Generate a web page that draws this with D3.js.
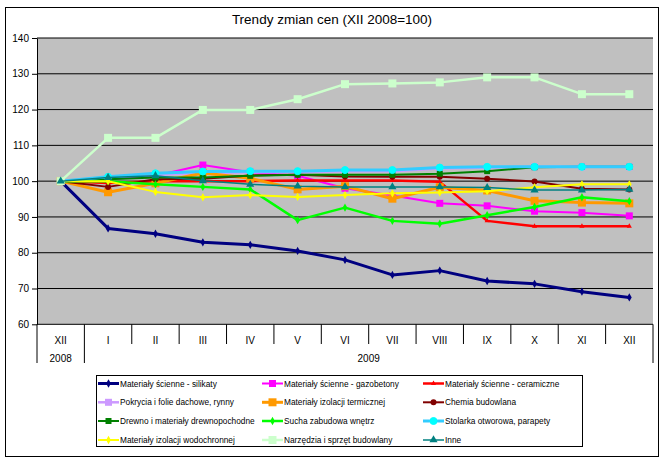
<!DOCTYPE html>
<html><head><meta charset="utf-8">
<script src="https://cdn.jsdelivr.net/npm/d3@7/dist/d3.min.js"></script>
<style>body{margin:0;background:#fff;}svg{display:block;font-family:Arial,"Liberation Sans",sans-serif;}</style>
</head><body>
<script>
const months = ["XII","I","II","III","IV","V","VI","VII","VIII","IX","X","XI","XII"];
const years = [["2008",0,1],["2009",1,13]];
const yTicks = [60,70,80,90,100,110,120,130,140];
const title = "Trendy zmian cen (XII 2008=100)";

const silikaty     = [100,86.8,85.3,82.9,82.2,80.5,78.0,73.8,75.0,72.1,71.3,69.1,67.5];
const gazobetony   = [100,100.5,101.5,104.5,102.5,101.5,98,96,93.8,93.1,91.6,91.2,90.3];
const ceramiczne   = [100,99.5,100,100,100,100.2,100.2,100.2,99.8,88.9,87.4,87.4,87.4];
const pokrycia     = [100,101,101.8,102.3,102.5,102.5,102.8,102.8,103.5,103.8,104,104,104];
const termiczne    = [100,96.9,99.4,102.3,100.8,97.7,98.6,95.1,98.3,97.4,94.5,94.0,93.8];
const chemia       = [100,98.4,100.5,100.7,101.6,101.8,101.3,101.2,101.2,100.7,99.9,97.9,97.7];
const drewno       = [100,100.5,101,101,101.5,101.8,101.8,101.8,102.1,102.8,103.9,104,104];
const sucha        = [100,100,99.1,98.4,97.7,89.1,92.6,88.9,88.1,90.5,92.8,95.5,94.4];
const stolarka     = [100,101.2,102.2,102.7,102.8,102.8,103.1,103.1,103.8,104,104,104,104];
const wodochronne  = [100,100,97,95.5,96.1,95.6,96.1,96.6,96.8,97.2,98.3,99.1,99.1];
const narzedzia    = [100,112.1,112.1,119.9,119.9,122.9,127.1,127.3,127.6,129,129,124.3,124.3];
const inne         = [100,101,101.5,100.1,99.1,98.6,98.4,98.4,98.4,98.2,97.5,97.5,97.7];

const seriesNames = ["Materiały ścienne - silikaty","Materiały ścienne - gazobetony","Materiały ścienne - ceramiczne",
 "Pokrycia i folie dachowe, rynny","Materiały izolacji termicznej","Chemia budowlana",
 "Drewno i materiały drewnopochodne","Sucha zabudowa wnętrz","Stolarka otworowa, parapety",
 "Materiały izolacji wodochronnej","Narzędzia i sprzęt budowlany","Inne"];
const seriesValues = [silikaty,gazobetony,ceramiczne,pokrycia,termiczne,chemia,drewno,sucha,stolarka,wodochronne,narzedzia,inne];
const seriesStyle = [
 {c:"#000080",f:"#000080",w:3,m:"diamond",s:6},
 {c:"#FF00FF",f:"#FF00FF",w:2,m:"square",s:7},
 {c:"#FF0000",f:"#FF0000",w:2.5,m:"triangle",s:5},
 {c:"#CC99FF",f:"#CC99FF",w:2.5,m:"square",s:7},
 {c:"#FF9900",f:"#FF9900",w:3,m:"square",s:8},
 {c:"#800000",f:"#800000",w:2,m:"circle",s:6},
 {c:"#008000",f:"#008000",w:2,m:"square",s:6},
 {c:"#00FF00",f:"#00FF00",w:2.5,m:"diamond",s:6},
 {c:"#33CCFF",f:"#00FFFF",w:3,m:"circle",s:7},
 {c:"#FFFF00",f:"#FFFF00",w:2,m:"diamond",s:6},
 {c:"#CCFFCC",f:"#CCFFCC",w:2.5,m:"square",s:8},
 {c:"#008080",f:"#008080",w:1.5,m:"triangle",s:8}
];

const W=664,H=460;
const L=37,R=653,T=38,B=324.3;
const svg=d3.select("body").append("svg").attr("width",W).attr("height",H);
svg.append("rect").attr("x",5.5).attr("y",7.5).attr("width",653).attr("height",449).attr("fill","#fff").attr("stroke","#000");

const x=d3.scaleBand().domain(d3.range(months.length)).range([L,R]);
const y=d3.scaleLinear().domain([60,140]).range([B,T]);

svg.append("text").attr("x",332).attr("y",24).attr("text-anchor","middle").attr("font-size","13.5px").text(title);

svg.append("rect").attr("x",L).attr("y",T).attr("width",R-L).attr("height",B-T).attr("fill","#C0C0C0");
svg.append("g").selectAll("line").data(yTicks.slice(1)).join("line")
 .attr("x1",L).attr("x2",R).attr("y1",d=>y(d)).attr("y2",d=>y(d)).attr("stroke","#000").attr("stroke-width",1);
// y axis
const ya=svg.append("g").attr("transform",`translate(${L},0)`).call(d3.axisLeft(y).tickValues(yTicks).tickSize(5).tickPadding(3).tickSizeOuter(0));
ya.select(".domain").attr("stroke","#000");
ya.selectAll("text").attr("font-size","10px").attr("font-family","Arial, Liberation Sans, sans-serif").attr("fill","#000");
// x axis
svg.append("line").attr("x1",L).attr("x2",R).attr("y1",B).attr("y2",B).attr("stroke","#000");
const bw=x.bandwidth();
svg.append("g").selectAll("line").data(d3.range(months.length+1)).join("line")
 .attr("x1",i=>L+i*bw).attr("x2",i=>L+i*bw).attr("y1",B).attr("y2",i=>(i===0||i===1||i===months.length)?363:344)
 .attr("stroke","#000");
svg.append("g").selectAll("text").data(months).join("text")
 .attr("x",(d,i)=>x(i)+bw/2).attr("y",343.5).attr("text-anchor","middle").attr("font-size","10px").text(d=>d);
svg.append("g").selectAll("text").data(years).join("text")
 .attr("x",d=>(x(d[1])+x(d[2]-1)+bw)/2).attr("y",362).attr("text-anchor","middle").attr("font-size","10px").text(d=>d[0]);

const symMap={diamond:d3.symbolDiamond,square:d3.symbolSquare,triangle:d3.symbolTriangle,circle:d3.symbolCircle};
function marker(g,st,cx,cy){
 const area = st.m==="diamond"? st.s*st.s*0.55 : st.m==="circle"? Math.PI*(st.s/2)*(st.s/2) : st.m==="triangle"? st.s*st.s*0.45 : st.s*st.s;
 g.append("path").attr("d",d3.symbol().type(symMap[st.m]).size(area)()).attr("transform",`translate(${cx},${cy})`)
  .attr("fill",st.f).attr("stroke",st.m==="circle"&&st.f!==st.c?st.f:"none");
}
const line=d3.line().x((d,i)=>x(i)+bw/2).y(d=>y(d));
seriesValues.forEach((vals,k)=>{
 const st=seriesStyle[k];
 const g=svg.append("g");
 g.append("path").attr("d",line(vals)).attr("fill","none").attr("stroke",st.c).attr("stroke-width",st.w).attr("stroke-linejoin","round");
 vals.forEach((v,i)=>marker(g,st,x(i)+bw/2,y(v)));
});

// legend
svg.append("rect").attr("x",96.5).attr("y",375.5).attr("width",486).attr("height",71).attr("fill","#fff").attr("stroke","#000");
const colX=[98,262,423], rowY=[383.5,402.3,421,440];
seriesNames.forEach((n,k)=>{
 const c=k%3, r=Math.floor(k/3), st=seriesStyle[k];
 const g=svg.append("g");
 g.append("line").attr("x1",colX[c]).attr("x2",colX[c]+21).attr("y1",rowY[r]).attr("y2",rowY[r]).attr("stroke",st.c).attr("stroke-width",st.w);
 marker(g,st,colX[c]+10.5,rowY[r]);
 g.append("text").attr("x",colX[c]+22).attr("y",rowY[r]+3).attr("font-size","8.3px").text(n);
});
</script>
</body></html>
